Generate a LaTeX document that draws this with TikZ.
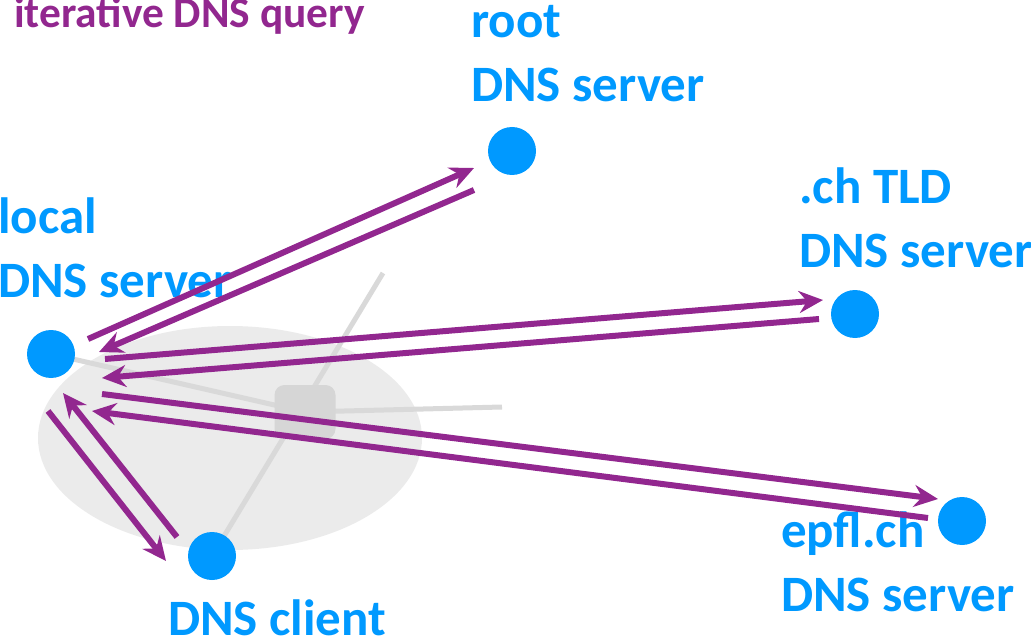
\documentclass[tikz,border=0pt]{standalone}
\usepackage{fontspec}
\setmainfont{Carlito}
\usetikzlibrary{arrows.meta}
\definecolor{dnsblue}{HTML}{0099FF}
\definecolor{dnspurple}{HTML}{92278F}
\definecolor{lanfill}{HTML}{EBEBEB}
\definecolor{lanline}{HTML}{D9D9D9}
\definecolor{hubfill}{HTML}{D6D6D6}
\begin{document}
\begin{tikzpicture}[x=1pt,y=-1pt,
  host/.style={circle,fill=dnsblue,minimum size=48pt,inner sep=0pt},
  lbl/.style={text=dnsblue,font=\fontsize{51}{64}\selectfont\bfseries,align=left,anchor=base west,inner sep=0pt},
  msg/.style={draw=dnspurple,line width=6pt,-{Stealth[length=24pt,width=22pt,inset=8pt]}},
  lan/.style={draw=lanline,line width=5pt}]
\useasboundingbox (0,0) rectangle (1031,639);
% centres
\coordinate (pL) at (51,354);
\coordinate (pR) at (512,151);
\coordinate (pT) at (855,314);
\coordinate (pE) at (962,521);
\coordinate (pC) at (212,556);
\coordinate (hubc) at (305,412);
\coordinate (lanE) at (502,407);
\coordinate (lanN) at (383,273);
% LAN
\fill[lanfill] (230,438) ellipse [x radius=192, y radius=112];
\draw[lan] (pL) -- (hubc) -- (lanE);
\draw[lan] (lanN) -- (pC);
\node[fill=hubfill,rounded corners=10pt,minimum width=61pt,minimum height=54pt,inner sep=0pt] (hub) at (hubc) {};
% hosts
\node[host] (local) at (pL) {};
\node[host] (root) at (pR) {};
\node[host] (tld) at (pT) {};
\node[host] (epfl) at (pE) {};
\node[host] (client) at (pC) {};
% labels (anchor = baseline of the last line)
\node[text=dnspurple,font=\fontsize{43.4}{50}\selectfont\bfseries,anchor=base west,inner sep=0pt] (title) at (14,28) {iterative DNS query};
\node[lbl] (rootlbl) at (471,102) {root\\DNS server};
\node[lbl] (locallbl) at (-2,298) {local\\DNS server};
\node[lbl] (tldlbl) at (799,268) {.ch TLD\\DNS server};
\node[lbl] (epfllbl) at (781,611) {epfl.ch\\DNS server};
\node[lbl] (clientlbl) at (168,635) {DNS client};
% arrow end points
\coordinate (a1s) at (88,339);  \coordinate (a1e) at (474,168);
\coordinate (a2s) at (474,190); \coordinate (a2e) at (99,352);
\coordinate (a3s) at (105,359); \coordinate (a3e) at (823,300);
\coordinate (a4s) at (819,319); \coordinate (a4e) at (102,378);
\coordinate (a5s) at (102,394); \coordinate (a5e) at (938,499);
\coordinate (a6s) at (928,518); \coordinate (a6e) at (92,411);
\coordinate (a7s) at (48,411);  \coordinate (a7e) at (166,561);
\coordinate (a8s) at (177,537); \coordinate (a8e) at (63,393);
\draw[msg] (a1s) -- (a1e);
\draw[msg] (a2s) -- (a2e);
\draw[msg] (a3s) -- (a3e);
\draw[msg] (a4s) -- (a4e);
\draw[msg] (a5s) -- (a5e);
\draw[msg] (a6s) -- (a6e);
\draw[msg] (a7s) -- (a7e);
\draw[msg] (a8s) -- (a8e);
\end{tikzpicture}
\end{document}
